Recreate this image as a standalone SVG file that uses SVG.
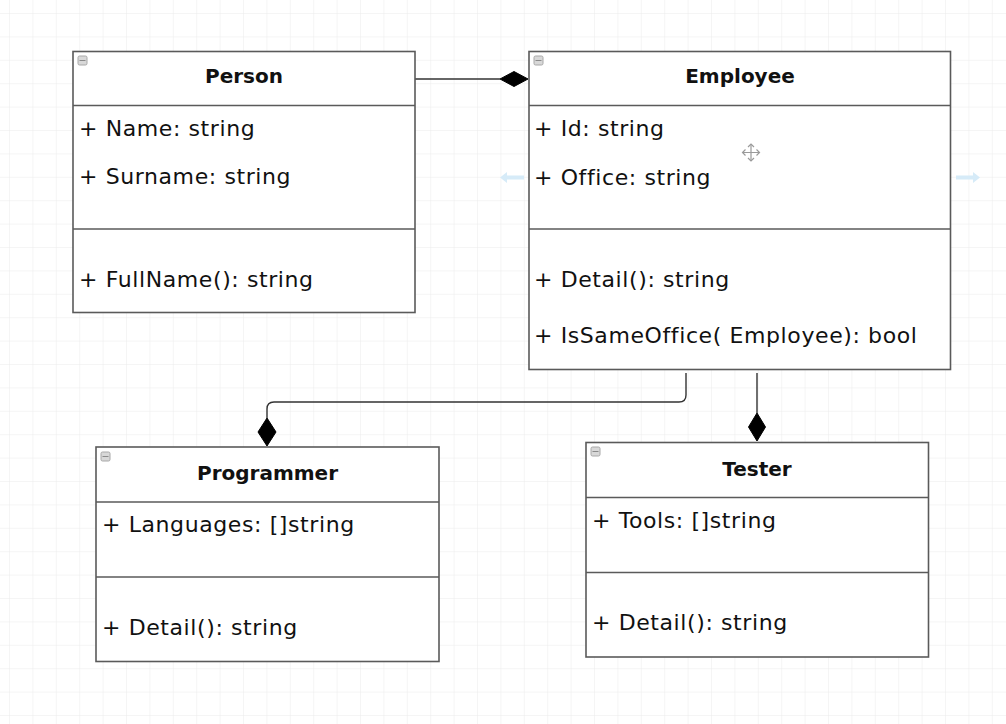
<svg xmlns="http://www.w3.org/2000/svg" width="1006" height="724" viewBox="0 0 1006 724">
<defs>
<pattern id="grid" x="9" y="13" width="23.4" height="23.4" patternUnits="userSpaceOnUse">
<path d="M 0 0 L 0 23.4 M 0 0 L 23.4 0" fill="none" stroke="#ececec" stroke-width="1"/>
</pattern>
<style>
.box{fill:#ffffff;stroke:#5a5a5a;stroke-width:1.6}
.div{stroke:#5a5a5a;stroke-width:1.6}
.title{font-family:"DejaVu Sans","Liberation Sans",sans-serif;font-size:20px;font-weight:bold;fill:#111;text-anchor:middle}
.item{font-family:"DejaVu Sans","Liberation Sans",sans-serif;font-size:22px;letter-spacing:0.6px;fill:#111}
.icon{fill:#d8d8d8;stroke:#a8a8a8;stroke-width:1}
.iconline{stroke:#8a8a8a;stroke-width:1}
.conn{fill:none;stroke:#333;stroke-width:1.4}
.dia{fill:#000;stroke:#000;stroke-width:1}
.hint{fill:#d6ebf8}
</style>
</defs>
<rect x="0" y="0" width="1006" height="724" fill="#ffffff"/>
<rect x="0" y="0" width="1006" height="724" fill="url(#grid)"/>

<g id="connectors">
<path class="conn" d="M 415 79 L 500 79"/>
<polygon class="dia" points="500,79 514,71.5 528,79 514,86.5"/>
<path class="conn" d="M 686 373 L 686 395 Q 686 402 679 402 L 274 402 Q 267 402 267 409 L 267 418"/>
<polygon class="dia" points="267,418 276,432 267,446 258,432"/>
<path class="conn" d="M 757 373 L 757 413"/>
<polygon class="dia" points="757,413 765.5,427 757,441 748.5,427"/>
</g>

<g id="Person">
<rect class="box" x="73" y="51.5" width="342" height="261"/>
<line class="div" x1="73" y1="105.5" x2="415" y2="105.5"/>
<line class="div" x1="73" y1="229" x2="415" y2="229"/>
<rect class="icon" x="78" y="56" width="9" height="9" rx="1.5"/>
<line class="iconline" x1="79.5" y1="60.5" x2="85.5" y2="60.5"/>
<text class="title" x="244" y="83">Person</text>
<text class="item" x="79" y="136">+ Name: string</text>
<text class="item" x="79" y="184">+ Surname: string</text>
<text class="item" x="79" y="287">+ FullName(): string</text>
</g>

<g id="Employee">
<rect class="box" x="529" y="51.5" width="421.5" height="318"/>
<line class="div" x1="529" y1="105.5" x2="950.5" y2="105.5"/>
<line class="div" x1="529" y1="229" x2="950.5" y2="229"/>
<rect class="icon" x="534" y="56" width="9" height="9" rx="1.5"/>
<line class="iconline" x1="535.5" y1="60.5" x2="541.5" y2="60.5"/>
<text class="title" x="740" y="83">Employee</text>
<text class="item" x="534" y="136">+ Id: string</text>
<text class="item" x="534" y="185">+ Office: string</text>
<text class="item" x="534" y="287">+ Detail(): string</text>
<text class="item" x="534" y="343">+ IsSameOffice( Employee): bool</text>
</g>

<g id="Programmer">
<rect class="box" x="96" y="447" width="343" height="214.5"/>
<line class="div" x1="96" y1="502" x2="439" y2="502"/>
<line class="div" x1="96" y1="577" x2="439" y2="577"/>
<rect class="icon" x="101" y="452" width="9" height="9" rx="1.5"/>
<line class="iconline" x1="102.5" y1="456.5" x2="108.5" y2="456.5"/>
<text class="title" x="267.5" y="480">Programmer</text>
<text class="item" x="102" y="532">+ Languages: []string</text>
<text class="item" x="102" y="635">+ Detail(): string</text>
</g>

<g id="Tester">
<rect class="box" x="586" y="442.5" width="342.5" height="214.5"/>
<line class="div" x1="586" y1="497.5" x2="928.5" y2="497.5"/>
<line class="div" x1="586" y1="572.5" x2="928.5" y2="572.5"/>
<rect class="icon" x="591" y="447" width="9" height="9" rx="1.5"/>
<line class="iconline" x1="592.5" y1="451.5" x2="598.5" y2="451.5"/>
<text class="title" x="757" y="476">Tester</text>
<text class="item" x="592" y="528">+ Tools: []string</text>
<text class="item" x="592" y="630">+ Detail(): string</text>
</g>

<g id="hints">
<polygon class="hint" points="500,177.5 507,172 507,175.5 524,175.5 524,179.5 507,179.5 507,183"/>
<polygon class="hint" points="980,177.5 973,172 973,175.5 956,175.5 956,179.5 973,179.5 973,183"/>
<g fill="none" stroke="#9a9a9a" stroke-width="1.2">
<path d="M 751 144 L 751 161 M 742.5 152.5 L 759.5 152.5"/>
<path d="M 748 147 L 751 144 L 754 147 M 748 158 L 751 161 L 754 158 M 745.5 149.5 L 742.5 152.5 L 745.5 155.5 M 756.5 149.5 L 759.5 152.5 L 756.5 155.5"/>
</g>
</g>
</svg>
